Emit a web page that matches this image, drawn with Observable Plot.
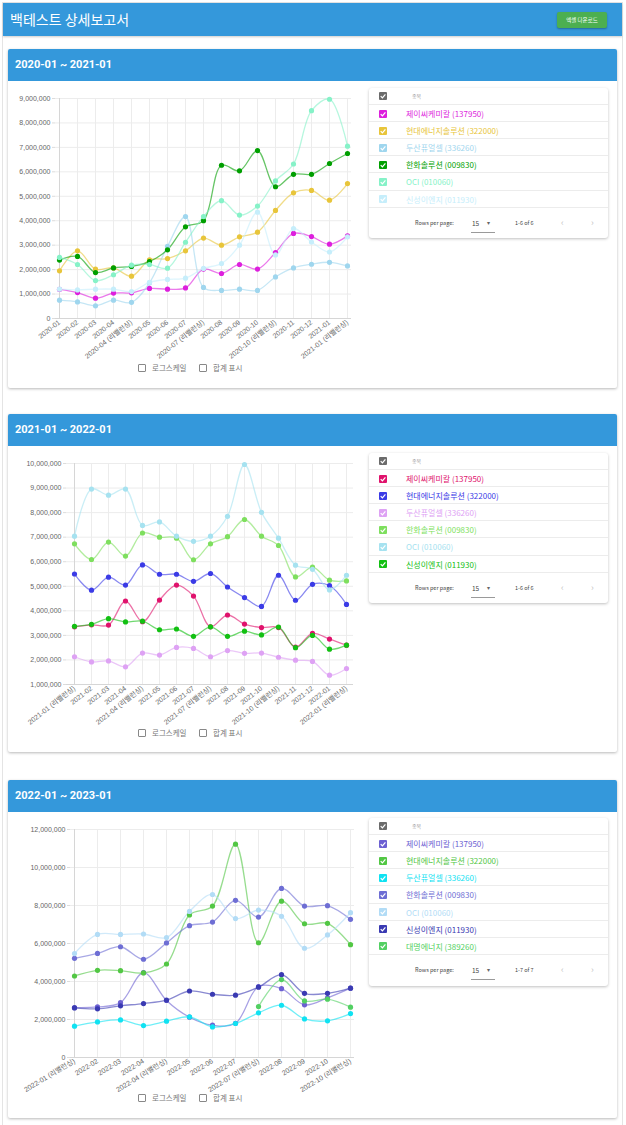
<!DOCTYPE html>
<html><head><meta charset="utf-8">
<script src="https://cdn.jsdelivr.net/npm/d3@7"></script>
<script src="https://cdn.jsdelivr.net/npm/@observablehq/plot@0.6"></script>
<style>
html,body{margin:0;padding:0;background:#fff;}
body{width:626px;height:1125px;position:relative;overflow:hidden;font-family:Roboto,"Noto Sans CJK KR",sans-serif;}
.abs{position:absolute;}
#frame{left:2px;top:2px;width:619px;height:1130px;border:1px solid #e4e4e4;}
#topbar{left:3px;top:3px;width:619px;height:33px;background:#3498db;box-shadow:0 1px 2px rgba(0,0,0,.2);}
#title{left:10px;top:3px;height:33px;line-height:33px;color:#fff;font-size:14px;font-family:"Noto Sans CJK KR",sans-serif;}
#btn{left:557px;top:12px;width:50px;height:16px;background:#4caf50;border-radius:2px;color:#fff;font-size:5.5px;line-height:16px;text-align:center;box-shadow:0 1px 2px rgba(0,0,0,.3);font-family:"Noto Sans CJK KR",sans-serif;}
.card{left:8px;width:609px;background:#fff;box-shadow:0 1px 3px rgba(0,0,0,.28);border-radius:2px;}
.cardhead{left:0;top:0;width:609px;height:32px;background:#3498db;color:#fff;font-weight:bold;font-size:11px;line-height:32px;text-indent:7px;border-radius:2px 2px 0 0;}
.tbl{left:369px;width:239px;background:#fff;box-shadow:0 1px 3px rgba(0,0,0,.25);border-radius:3px;font-family:"Noto Sans CJK KR",sans-serif;}
.row{left:0;width:239px;border-top:1px solid #ececec;box-sizing:border-box;}
.cb{left:10px;width:8px;height:8px;}
.lbl{left:37px;font-size:8px;white-space:nowrap;}
.small{font-size:5.5px;color:#444;white-space:nowrap;}
.opt{font-size:7.5px;color:#777;white-space:nowrap;font-family:"Noto Sans CJK KR",sans-serif;}
.box{width:6px;height:6px;border:1px solid #888;border-radius:1px;}
</style>
</head><body>
<div id="frame" class="abs"></div>
<div id="topbar" class="abs"></div>
<div id="title" class="abs">백테스트 상세보고서</div>
<div id="btn" class="abs">엑셀 다운로드</div>
<div id="root"></div>
<script>
// ---------- DATA ----------
const names = ["제이씨케미칼","현대에너지솔루션","두산퓨얼셀","한화솔루션","OCI","신성이엔지"];
const codes = ["137950","322000","336260","009830","010060","011930"];
const names3 = ["제이씨케미칼","현대에너지솔루션","두산퓨얼셀","한화솔루션","OCI","신성이엔지","대명에너지"];
const codes3 = ["137950","322000","336260","009830","010060","011930","389260"];

const labels1 = ["2020-01","2020-02","2020-03","2020-04","2020-04 (리밸런싱)","2020-05","2020-06","2020-07","2020-07 (리밸런싱)","2020-08","2020-09","2020-10","2020-10 (리밸런싱)","2020-11","2020-12","2021-01","2021-01 (리밸런싱)"];
const jc1  = [1190000,1060000,830000,1040000,1050000,1230000,1200000,1250000,2020000,1840000,2210000,2020000,2700000,3480000,3350000,3040000,3380000];
const hd1  = [1950000,2770000,2020000,2070000,1730000,2400000,2450000,2770000,3290000,3000000,3340000,3530000,4420000,5140000,5240000,4840000,5520000];
const ds1  = [750000,680000,520000,750000,660000,1460000,2950000,4170000,1270000,1150000,1200000,1150000,1700000,2070000,2220000,2300000,2150000];
const hw1  = [2390000,2540000,1880000,2070000,2130000,2330000,2810000,3750000,4000000,6270000,6040000,6870000,5390000,5900000,5900000,6340000,6750000];
const oci1 = [2500000,2210000,1550000,1790000,2180000,2210000,2060000,3120000,4170000,4820000,4230000,4600000,5630000,6320000,8500000,8970000,7050000];
const ss1  = [1200000,1170000,1200000,1200000,1100000,1480000,1600000,1650000,2050000,2250000,3000000,4350000,2600000,3680000,3130000,2720000,3340000];
const colors1 = ["#dd1fdd","#e8c53a","#9fd6ee","#009f00","#86f2c8","#c6eefb"];

const labels2 = ["2021-01 (리밸런싱)","2021-02","2021-03","2021-04","2021-04 (리밸런싱)","2021-05","2021-06","2021-07","2021-07 (리밸런싱)","2021-08","2021-09","2021-10","2021-10 (리밸런싱)","2021-11","2021-12","2022-01","2022-01 (리밸런싱)"];
const jc2  = [3350000,3430000,3420000,4400000,3560000,4440000,5050000,4600000,3350000,3830000,3460000,3320000,3320000,2520000,3080000,2850000,2600000];
const hd2  = [5500000,4840000,5370000,5050000,5870000,5490000,5490000,5200000,5520000,4970000,4540000,4180000,5450000,4430000,5080000,5030000,4260000];
const ds2  = [2130000,1920000,1960000,1720000,2280000,2200000,2510000,2470000,2130000,2380000,2270000,2280000,2110000,1990000,1940000,1380000,1650000];
const hw2  = [6730000,6090000,6800000,6230000,7170000,7000000,6960000,6080000,6730000,7020000,7720000,7040000,6660000,5380000,5780000,5250000,5220000];
const oci2 = [7040000,8960000,8710000,8960000,7480000,7620000,7040000,6830000,7040000,7850000,9960000,8010000,6960000,5860000,5690000,4850000,5450000];
const ss2  = [3370000,3450000,3680000,3550000,3580000,3230000,3260000,2960000,3350000,2960000,3170000,3020000,3340000,2500000,3000000,2440000,2600000];
const colors2 = ["#e0126c","#3b3be6","#dea2f4","#7edf5e","#a6e2f0","#12c012"];

const labels3 = ["2022-01 (리밸런싱)","2022-02","2022-03","2022-04","2022-04 (리밸런싱)","2022-05","2022-06","2022-07","2022-07 (리밸런싱)","2022-08","2022-09","2022-10","2022-10 (리밸런싱)"];
const jc3  = [2630000,2660000,2890000,4470000,3000000,2120000,1700000,1800000,3730000,3620000,2770000,3140000,3650000];
const hd3  = [4290000,4590000,4570000,4450000,4920000,7500000,7970000,11230000,6040000,8230000,7040000,7060000,5940000];
const ds3  = [1650000,1870000,1980000,1680000,1910000,2140000,1610000,1790000,2350000,2750000,2030000,1930000,2310000];
const hw3  = [5220000,5480000,5830000,5170000,6030000,6940000,7130000,8270000,7390000,8900000,7970000,7990000,7270000];
const oci3 = [5470000,6480000,6480000,6500000,6310000,7690000,8580000,7310000,7760000,7430000,5750000,6450000,7620000];
const ss3  = [2610000,2560000,2720000,2840000,3020000,3500000,3330000,3280000,3700000,4360000,3380000,3380000,3650000];
const dm3  = [null,null,null,null,null,null,null,null,2680000,4100000,2980000,3070000,2650000];
const colors3 = ["#6c60d2","#52c744","#10e2f2","#6e6ed4","#b2dcf6","#3a3ab2","#52d062"];

const sections = [
  {title:"2020-01 ~ 2021-01", labels:labels1, names, codes, values:[jc1,hd1,ds1,hw1,oci1,ss1], colors:colors1,
   yDomain:[0,9000000], yStep:1000000},
  {title:"2021-01 ~ 2022-01", labels:labels2, names, codes, values:[jc2,hd2,ds2,hw2,oci2,ss2], colors:colors2,
   yDomain:[1000000,10000000], yStep:1000000},
  {title:"2022-01 ~ 2023-01", labels:labels3, names:names3, codes:codes3, values:[jc3,hd3,ds3,hw3,oci3,ss3,dm3], colors:colors3,
   yDomain:[0,12000000], yStep:2000000}
];

// ---------- LAYOUT (page pixel geometry) ----------
const layout = [
  {cardTop:49, cardH:339, svgTop:88, ml:45, mr:16, mt:10, plotH:220, mb:44, rot:-38, optY:368, tblTop:88, rowH:17.1},
  {cardTop:414, cardH:338, svgTop:453, ml:56, mr:14, mt:10, plotH:221, mb:44, rot:-38, optY:733, tblTop:453, rowH:17.1},
  {cardTop:780, cardH:338, svgTop:819, ml:60, mr:13, mt:10, plotH:228, mb:38, rot:-31, optY:1098, tblTop:818, rowH:17.15}
];

const root = document.getElementById("root");
function el(cls, style, html){const d=document.createElement("div");d.className=cls;Object.assign(d.style,style||{});if(html!=null)d.innerHTML=html;return d;}
function check(color){return `<svg width="8" height="8" style="display:block"><rect width="8" height="8" rx="1" fill="${color}"/><path d="M1.7 4.1 L3.4 5.8 L6.4 2.4" stroke="#fff" stroke-width="1.2" fill="none"/></svg>`;}

sections.forEach((s, k) => {
  const L = layout[k];
  const card = el("abs card", {top:L.cardTop+"px", height:L.cardH+"px"});
  card.appendChild(el("abs cardhead", {}, s.title));
  root.appendChild(card);

  const rows = [];
  s.names.forEach((n, i) => s.labels.forEach((lab, j) => rows.push({label:lab, name:n, value:s.values[i][j]})));
  const yTicks = d3.range(s.yDomain[0], s.yDomain[1] + 1, s.yStep);
  const W = 357, H = L.mt + L.plotH + L.mb;
  const chart = Plot.plot({
    width: W, height: H,
    marginLeft: L.ml, marginRight: L.mr, marginTop: L.mt, marginBottom: L.mb,
    style: {fontFamily: "'Liberation Sans','Noto Sans CJK KR',sans-serif", fontSize: "7px", color: "#666", background: "transparent", overflow: "visible"},
    x: {type: "point", domain: s.labels, padding: 0, label: null},
    y: {domain: s.yDomain, label: null},
    color: {domain: s.names, range: s.colors},
    marks: [
      Plot.ruleX(s.labels, {stroke: "#ececec"}),
      Plot.ruleY(yTicks, {stroke: "#ececec"}),
      Plot.ruleX([s.labels[0]], {stroke: "#d6d6d6"}),
      Plot.ruleY([s.yDomain[0]], {stroke: "#d6d6d6"}),
      Plot.axisY({ticks: yTicks, tickFormat: d3.format(","), tickSize: 3, tickPadding: 2, stroke: "#dcdcdc", fill: "#666", label: null}),
      Plot.axisX({tickRotate: L.rot, tickSize: 0, tickPadding: 3, fill: "#666", label: null}),
      Plot.line(rows, {x: "label", y: "value", z: "name", stroke: "name", curve: "catmull-rom", strokeWidth: 1.3, strokeOpacity: 0.6}),
      Plot.dot(rows.filter(d => d.value != null), {x: "label", y: "value", fill: "name", r: 2.6})
    ]
  });
  const holder = el("abs", {left:"10px", top:L.svgTop+"px", width:W+"px", height:H+"px"});
  holder.appendChild(chart);
  root.appendChild(holder);

  const oy = L.optY;
  root.appendChild(el("abs box", {left:"138px", top:(oy-4)+"px"}));
  root.appendChild(el("abs opt", {left:"152px", top:(oy-6)+"px", lineHeight:"12px"}, "로그스케일"));
  root.appendChild(el("abs box", {left:"199px", top:(oy-4)+"px"}));
  root.appendChild(el("abs opt", {left:"213px", top:(oy-6)+"px", lineHeight:"12px"}, "합계 표시"));

  const n = s.names.length, headH = 16, footH = 31.5;
  const tbl = el("abs tbl", {top:L.tblTop+"px", height:(headH + n*L.rowH + footH)+"px"});
  tbl.appendChild(el("abs cb", {top:"4px"}, check("#6b6b6b")));
  tbl.appendChild(el("abs small", {left:"43px", top:"4px", lineHeight:"8px", color:"#999", fontSize:"5px"}, "종목"));
  s.names.forEach((nm, i) => {
    const r = el("abs row", {top:(headH + i*L.rowH)+"px", height:L.rowH+"px"});
    r.appendChild(el("abs cb", {top:((L.rowH-8)/2)+"px"}, check(s.colors[i])));
    r.appendChild(el("abs lbl", {top:"0px", lineHeight:L.rowH+"px", color:s.colors[i]}, `${nm} (${s.codes[i]})`));
    tbl.appendChild(r);
  });
  const f = el("abs row", {top:(headH + n*L.rowH)+"px", height:footH+"px"});
  f.appendChild(el("abs small", {left:"46px", top:"11px", lineHeight:"8px"}, "Rows per page:"));
  f.appendChild(el("abs small", {left:"103px", top:"11px", lineHeight:"8px", fontSize:"6.5px"}, "15"));
  f.appendChild(el("abs small", {left:"118px", top:"11px", lineHeight:"8px", fontSize:"6px", color:"#666"}, "▾"));
  f.appendChild(el("abs", {left:"102px", top:"24px", width:"24px", height:"1px", background:"#9a9a9a"}));
  f.appendChild(el("abs small", {left:"146px", top:"11px", lineHeight:"8px"}, `1-${n} of ${n}`));
  f.appendChild(el("abs small", {left:"192px", top:"10px", lineHeight:"10px", fontSize:"9px", color:"#c4c4c4"}, "‹"));
  f.appendChild(el("abs small", {left:"222px", top:"10px", lineHeight:"10px", fontSize:"9px", color:"#c4c4c4"}, "›"));
  tbl.appendChild(f);
  root.appendChild(tbl);
});
</script>
</body></html>
